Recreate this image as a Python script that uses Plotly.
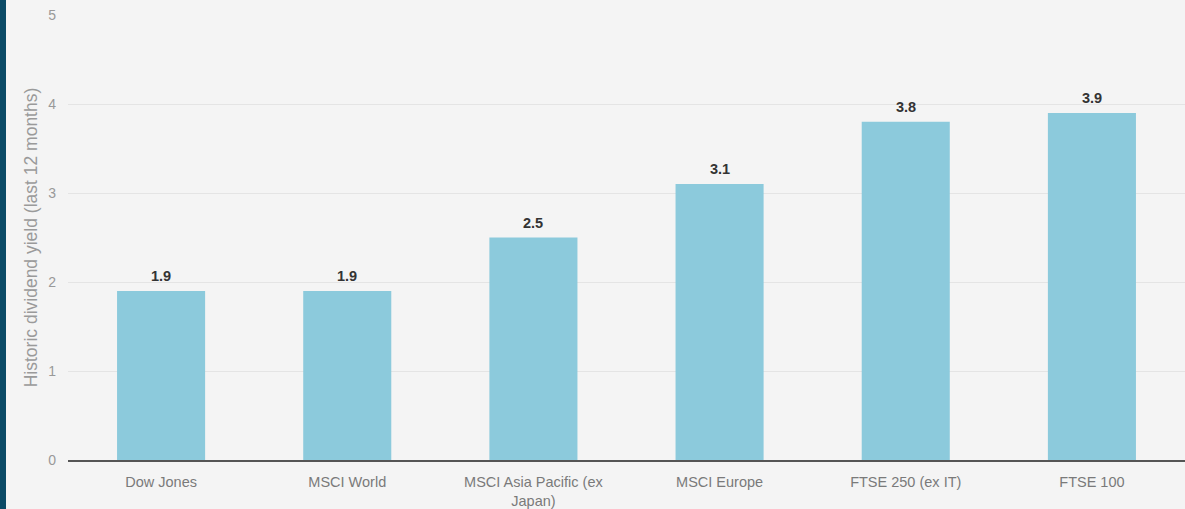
import plotly.graph_objects as go

categories = ["Dow Jones", "MSCI World", "MSCI Asia Pacific (ex<br>Japan)", "MSCI Europe", "FTSE 250 (ex IT)", "FTSE 100"]
values = [1.9, 1.9, 2.5, 3.1, 3.8, 3.9]
y_ticks = [0, 1, 2, 3, 4, 5]

W, H = 1185, 509
ml, mr, mt, mb = 68, 0, 15, 47
pw = W - ml - mr
FONT = "Liberation Sans, Arial"

fig = go.Figure(go.Bar(
    x=categories, y=values,
    marker=dict(color="#8ccadc", line=dict(width=0)),
    hoverinfo="x+y",
))

annotations = [
    dict(x=c, y=v, xref="x", yref="y", text=f"<b>{v:.1f}</b>",
         showarrow=False, yanchor="bottom", yshift=5,
         font=dict(family=FONT, size=14.5, color="#333333"))
    for c, v in zip(categories, values)
]

fig.update_layout(
    width=W, height=H,
    margin=dict(l=ml, r=mr, t=mt, b=mb),
    paper_bgcolor="#f4f4f4",
    plot_bgcolor="#f4f4f4",
    bargap=0.527,
    showlegend=False,
    font=dict(family=FONT, color="#888888"),
    xaxis=dict(
        showgrid=False,
        showline=True, linecolor="#555555", linewidth=1.5,
        ticks="", tickfont=dict(size=14.5, color="#7a7a7a"),
        ticklabelstandoff=8,
    ),
    yaxis=dict(
        range=[0, 5], tickvals=y_ticks,
        showgrid=True, gridcolor="#e4e4e4", gridwidth=1,
        zeroline=False, showline=False,
        ticks="", tickfont=dict(size=14, color="#999999"),
        ticklabelstandoff=11,
        title=dict(text="Historic dividend yield (last 12 months)",
                   font=dict(size=17.5, color="#9a9a9a"), standoff=6),
    ),
    annotations=annotations,
    shapes=[dict(type="rect", xref="paper", yref="paper",
                 x0=-ml / pw, x1=(6 - ml) / pw, y0=-1, y1=2,
                 fillcolor="#0b4a66", line=dict(width=0), layer="above")],
)

fig.write_html("out.html")
